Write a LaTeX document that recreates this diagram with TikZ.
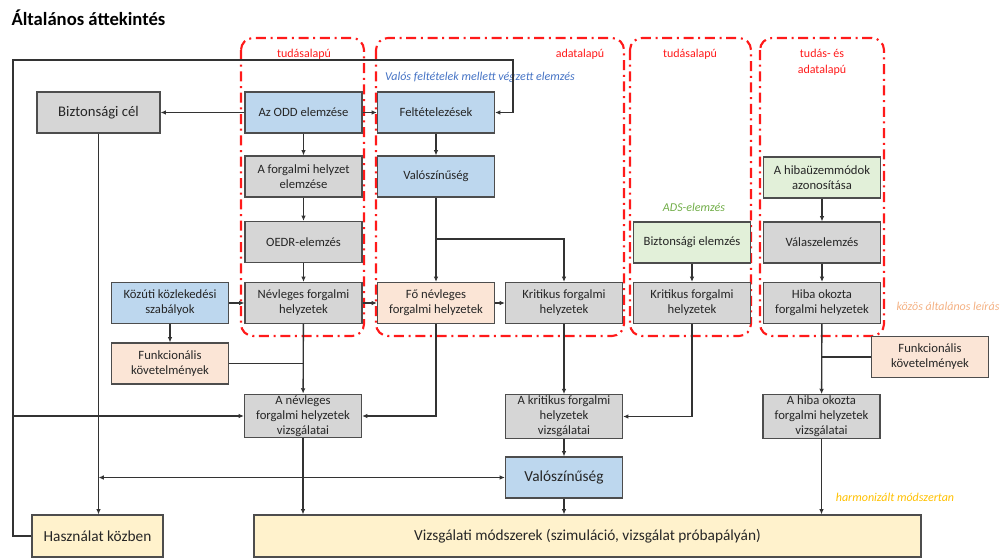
\documentclass[tikz,border=0pt]{standalone}
\usepackage{fontspec}
\setmainfont{Carlito}
\usetikzlibrary{arrows.meta}

\definecolor{keretszurke}{HTML}{4D4D4D}
\definecolor{szurke}{HTML}{D6D6D6}
\definecolor{kek}{HTML}{BDD7EE}
\definecolor{zold}{HTML}{E2F0D9}
\definecolor{barack}{HTML}{FBE5D6}
\definecolor{sarga}{HTML}{FFF2CC}
\definecolor{piros}{HTML}{FF1A1A}
\definecolor{kekfelirat}{HTML}{4472C4}
\definecolor{zoldfelirat}{HTML}{70AD47}
\definecolor{barackfelirat}{HTML}{F4B183}
\definecolor{sargafelirat}{HTML}{FFC000}

\tikzset{every picture/.style={line width=0.75pt}}
\tikzset{
  doboz/.style={draw=keretszurke, line width=0.9pt, fill=szurke, text=black!85,
    minimum width=87.75pt, minimum height=30.75pt, inner sep=1pt, align=center,
    font=\fontsize{9.5}{11.25}\selectfont},
  szdoboz/.style={doboz},
  kdoboz/.style={doboz, fill=kek},
  zdoboz/.style={doboz, fill=zold},
  bdoboz/.style={doboz, fill=barack},
  sdoboz/.style={doboz, fill=sarga, minimum height=31.5pt, font=\fontsize{11.5}{13}\selectfont},
  tartomany/.style={draw=piros, line width=1.6pt, rounded corners=9pt,
    dash pattern=on 7.5pt off 3.5pt on 1.5pt off 3.5pt},
  tfelirat/.style={text=piros, font=\fontsize{9}{12}\selectfont, align=center},
  dolt/.style={font=\fontsize{9}{11}\selectfont\itshape},
  nyil/.style={line width=1pt, draw=black!80}
}

\begin{document}
\begin{tikzpicture}[x=0.75pt,y=0.75pt,yscale=-1,xscale=1, >={Latex[length=4pt,width=3.5pt]}]
\useasboundingbox (0,0) rectangle (1000,558);

% Title
\node [anchor=west, inner sep=0pt, font=\fontsize{14}{16}\selectfont\bfseries] (cim) at (11,18) {Általános áttekintés};

%Shape: regions
\draw [tartomany] (241,38) rectangle (364,336);
\draw [tartomany] (376,38) rectangle (624,336);
\draw [tartomany] (630,38) rectangle (751,336);
\draw [tartomany] (760,38) rectangle (884,336);

% Text Node
\node [tfelirat] (tud1) at (304,54) {tudásalapú};
\node [tfelirat] (adat) at (580,54) {adatalapú};
\node [tfelirat] (tud2) at (690,54) {tudásalapú};
\node [tfelirat] (tudadat) at (822,62) {tudás- és\\adatalapú};
\node [dolt, text=kekfelirat] (valos) at (480,77) {Valós feltételek mellett végzett elemzés};
\node [dolt, text=zoldfelirat] (ads) at (694,207) {ADS-elemzés};
\node [dolt, text=barackfelirat] (kozos) at (948,306) {közös általános leírás};
\node [dolt, text=sargafelirat] (harm) at (895,497) {harmonizált módszertan};

% Boxes
\node [szdoboz, minimum width=92.25pt, font=\fontsize{11}{13}\selectfont] (bizcel) at (98.5,112.5) {Biztonsági cél};
\node [kdoboz] (odd) at (303.5,112.5) {Az ODD elemzése};
\node [kdoboz] (felt) at (436,112.5) {Feltételezések};
\node [szdoboz] (forgelem) at (303.5,176.5) {A forgalmi helyzet\\elemzése};
\node [kdoboz] (valfent) at (436,176.5) {Valószínűség};
\node [zdoboz] (hibauz) at (822,177.5) {A hibaüzemmódok\\azonosítása};
\node [szdoboz] (oedr) at (303.5,242) {OEDR-elemzés};
\node [zdoboz] (bizelem) at (692,242.5) {Biztonsági elemzés};
\node [szdoboz] (valasz) at (822,242.5) {Válaszelemzés};
\node [kdoboz] (kozuti) at (170,303) {Közúti közlekedési\\szabályok};
\node [szdoboz] (nevl) at (303.5,303) {Névleges forgalmi\\helyzetek};
\node [bdoboz] (fonevl) at (436,303) {Fő névleges\\forgalmi helyzetek};
\node [szdoboz] (krit1) at (564,303) {Kritikus forgalmi\\helyzetek};
\node [szdoboz] (krit2) at (692,303) {Kritikus forgalmi\\helyzetek};
\node [szdoboz] (hibaok) at (822,303) {Hiba okozta\\forgalmi helyzetek};
\node [bdoboz] (funkb) at (170,363.5) {Funkcionális\\követelmények};
\node [bdoboz] (funkj) at (930,357) {Funkcionális\\követelmények};
\node [szdoboz] (nevlvizs) at (303,416) {A névleges\\forgalmi helyzetek\\vizsgálatai};
\node [szdoboz] (kritvizs) at (564,416.5) {A kritikus forgalmi\\helyzetek\\vizsgálatai};
\node [szdoboz] (hibavizs) at (821.5,416.5) {A hiba okozta\\forgalmi helyzetek\\vizsgálatai};
\node [kdoboz, font=\fontsize{11.5}{13}\selectfont] (vallent) at (564,477.5) {Valószínűség};
\node [sdoboz, minimum width=98.25pt] (hasznal) at (97.5,536) {Használat közben};
\node [sdoboz, minimum width=500.25pt] (vizsmod) at (587.5,536) {Vizsgálati módszerek (szimuláció, vizsgálat próbapályán)};

\coordinate (elag) at (436,239);
\coordinate (bal) at (13,536);
\coordinate (jobb) at (513,60);

% Connectors
\draw [nyil, ->] (odd) -- (bizcel);
\draw [nyil, ->] (odd) -- (felt);
\draw [nyil, ->] (odd) -- (forgelem);
\draw [nyil, ->] (forgelem) -- (oedr);
\draw [nyil, ->] (oedr) -- (nevl);
\draw [nyil, ->] (felt) -- (valfent);
\draw [nyil, ->] (valfent) -- (fonevl);
\draw [nyil, ->] (elag) -| (krit1);
\draw [nyil, ->] (kozuti) -- (nevl);
\draw [nyil, ->] (kozuti) -- (funkb);
\draw [nyil, ->] (nevl) -- (fonevl);
\draw [nyil, ->] (fonevl) -- (krit1);
\draw [nyil, ->] (nevl) -- (nevlvizs);
\draw [nyil] (funkb.east) -- (funkb.east -| nevl);
\draw [nyil, ->] (fonevl) |- (nevlvizs);
\draw [nyil, ->] (krit1) -- (kritvizs);
\draw [nyil, ->] (bizelem) -- (krit2);
\draw [nyil, ->] (krit2) |- (kritvizs);
\draw [nyil, ->] (hibauz) -- (valasz);
\draw [nyil, ->] (valasz) -- (hibaok);
\draw [nyil, ->] (hibaok) -- (hibavizs);
\draw [nyil] (funkj.west) -- (funkj.west -| hibaok);
\draw [nyil, ->] (hibavizs) -- (hibavizs |- vizsmod.north);
\draw [nyil, ->] (kritvizs) -- (vallent);
\draw [nyil, ->] (vallent) -- (vallent |- vizsmod.north);
\draw [nyil, ->] (nevlvizs) -- (nevlvizs |- vizsmod.north);
\draw [nyil, ->] (bizcel) -- (bizcel |- hasznal.north);
\draw [nyil, <->] (bizcel |- vallent) -- (vallent);
\draw [nyil, ->] (hasznal) -- (bal) |- (jobb) |- (felt);
\draw [nyil, ->] (bal |- nevlvizs) -- (nevlvizs);

\end{tikzpicture}
\end{document}
